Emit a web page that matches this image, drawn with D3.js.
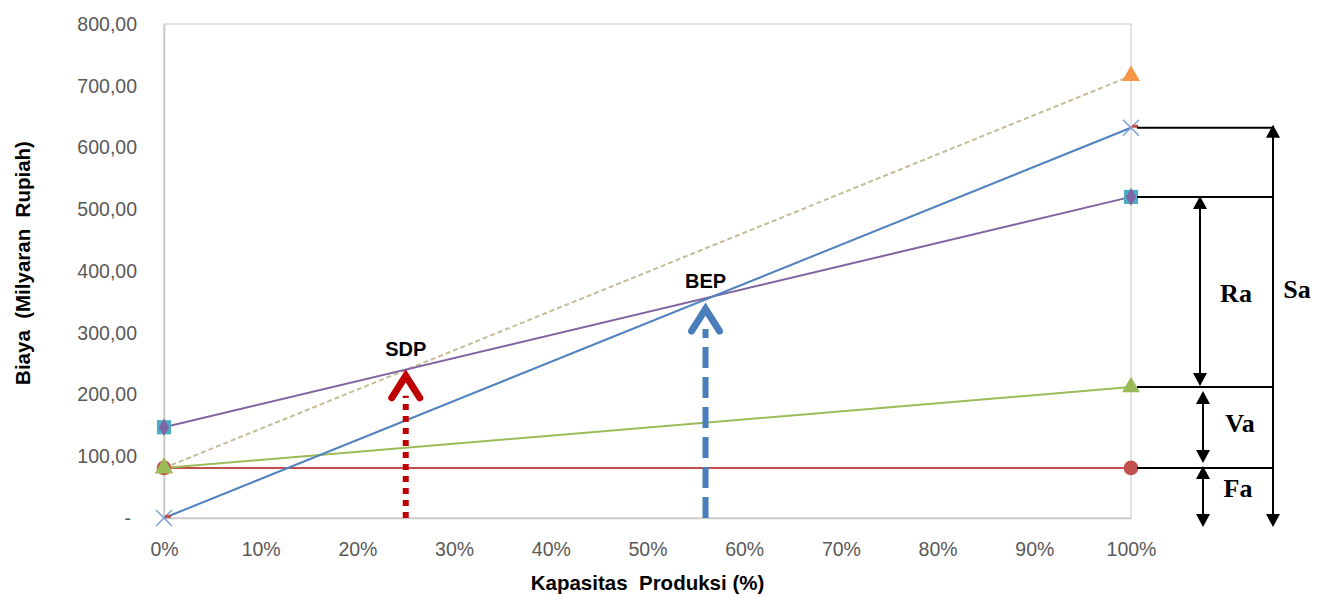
<!DOCTYPE html>
<html>
<head>
<meta charset="utf-8">
<script src="https://cdn.jsdelivr.net/npm/d3@7"></script>
<style>
  html, body { margin: 0; padding: 0; background: #fff; }
  svg { display: block; }
</style>
</head>
<body>
<svg id="chart" width="1325" height="596"></svg>
<script>
// Production capacity (share of full capacity) at the two plotted points
const capacity = [0, 1];
// Cost and revenue lines, billions of rupiah
const fixedCost     = [81, 81];    // Fa
const variableCost  = [81, 212];   // Fa + Va
const totalCost     = [147, 520];  // Fa + Va + Ra
const salesRevenue  = [0, 632];    // Sa
const upperLine     = [81, 716];

// Axis ticks
const xTicks = [0, 0.1, 0.2, 0.3, 0.4, 0.5, 0.6, 0.7, 0.8, 0.9, 1];
const xTickLabels = ["0%", "10%", "20%", "30%", "40%", "50%", "60%", "70%", "80%", "90%", "100%"];
const yTicks = [0, 100, 200, 300, 400, 500, 600, 700, 800];
const yTickLabels = ["-", "100,00", "200,00", "300,00", "400,00", "500,00", "600,00", "700,00", "800,00"];

// Break-even points marked with arrows
const sdpPoint = { cap: 0.25, value: 240 };
const bepPoint = { cap: 0.56, value: 348 };

const svg = d3.select("#chart");
const x = d3.scaleLinear().domain([0, 1]).range([164, 1131]);
const y = d3.scaleLinear().domain([0, 800]).range([518, 24]);

svg.append("rect").attr("width", 1325).attr("height", 596).attr("fill", "#fff");

// Plot frame
svg.append("rect")
  .attr("x", x(0)).attr("y", y(800))
  .attr("width", x(1) - x(0)).attr("height", y(0) - y(800))
  .attr("fill", "none").attr("stroke", "#d9d9d9").attr("stroke-width", 1.5);

// Axes
const tickFont = "'Liberation Sans', Arial, sans-serif";
const gx = svg.append("g").attr("transform", `translate(0,${y(0)})`)
  .call(d3.axisBottom(x).tickValues(xTicks)
    .tickFormat((d, i) => xTickLabels[i]).tickSize(0).tickPadding(24));
const gy = svg.append("g").attr("transform", `translate(${x(0)},0)`)
  .call(d3.axisLeft(y).tickValues(yTicks)
    .tickFormat((d, i) => yTickLabels[i]).tickSize(0).tickPadding(27));
[gx, gy].forEach(g => {
  g.select(".domain").attr("stroke", "#c8c8c8").attr("stroke-width", 1.5);
  g.selectAll("text").attr("fill", "#595959")
    .style("font-family", tickFont).style("font-size", "19.5px");
});
gy.selectAll(".tick text").filter(d => d === 0).attr("dx", -6);

// Axis titles
svg.append("text")
  .attr("x", (x(0) + x(1)) / 2).attr("y", 590)
  .attr("text-anchor", "middle")
  .style("font-family", tickFont).style("font-size", "20.5px").style("font-weight", "bold")
  .style("white-space", "pre")
  .text("Kapasitas  Produksi (%)");
svg.append("text")
  .attr("transform", `translate(30,${(y(0) + y(800)) / 2 - 8}) rotate(-90)`)
  .attr("text-anchor", "middle")
  .style("font-family", tickFont).style("font-size", "20.5px").style("font-weight", "bold")
  .style("white-space", "pre")
  .text("Biaya  (Milyaran  Rupiah)");

// Lines
const lineGen = d3.line().x(d => x(d[0])).y(d => y(d[1]));
const pts = vals => capacity.map((c, i) => [c, vals[i]]);
const series = [
  { vals: fixedCost, color: "#c0504d", dash: null },
  { vals: upperLine, color: "#c4bd97", dash: "5 3" },
  { vals: variableCost, color: "#9bbb59", dash: null },
  { vals: totalCost, color: "#8064a2", dash: null },
  { vals: salesRevenue, color: "#4f81bd", dash: null }
];
series.forEach(s => {
  svg.append("path").datum(pts(s.vals))
    .attr("d", lineGen).attr("fill", "none")
    .attr("stroke", s.color).attr("stroke-width", 2)
    .attr("stroke-dasharray", s.dash);
});

// Markers
const sym = (type, size) => d3.symbol().type(type).size(size)();
function markers(vals, path, fill, stroke, sw) {
  svg.selectAll(null).data(pts(vals)).enter().append("path")
    .attr("transform", d => `translate(${x(d[0])},${y(d[1])})`)
    .attr("d", path).attr("fill", fill)
    .attr("stroke", stroke || "none").attr("stroke-width", sw || 0);
}
markers(fixedCost, sym(d3.symbolCircle, 170), "#c0504d");
markers(upperLine, sym(d3.symbolTriangle, 140), "#f79646");
markers(variableCost, sym(d3.symbolTriangle, 140), "#9bbb59");
markers(totalCost, sym(d3.symbolSquare, 200), "#4bacc6");
markers(totalCost, sym(d3.symbolDiamond, 90), "#8064a2");
markers(salesRevenue, "M-8,-8L8,8M-8,8L8,-8", "none", "#7f9ed6", 1.5);
markers(salesRevenue, "M1,-3h6v3h-6z", "#c0504d");

// Break-even arrows
function arrow(p, color, dash, width) {
  const ax = x(p.cap), tip = y(p.value);
  svg.append("line")
    .attr("x1", ax).attr("x2", ax).attr("y1", y(0)).attr("y2", tip + 26)
    .attr("stroke", color).attr("stroke-width", width).attr("stroke-dasharray", dash);
  svg.append("path")
    .attr("d", `M${ax - 14},${tip + 28}L${ax},${tip + 6}L${ax + 14},${tip + 28}`)
    .attr("fill", "none").attr("stroke", color).attr("stroke-width", 7)
    .attr("stroke-linecap", "round").attr("stroke-linejoin", "miter");
}
arrow(sdpPoint, "#c00000", "6 6", 6);
arrow(bepPoint, "#4a7ebb", "21 9", 6);

svg.append("text").attr("x", x(sdpPoint.cap)).attr("y", 356)
  .attr("text-anchor", "middle")
  .style("font-family", tickFont).style("font-size", "20px").style("font-weight", "bold")
  .text("SDP");
svg.append("text").attr("x", x(bepPoint.cap)).attr("y", 288)
  .attr("text-anchor", "middle")
  .style("font-family", tickFont).style("font-size", "20px").style("font-weight", "bold")
  .text("BEP");

// Cost / revenue breakdown at full capacity
const endX = x(1);
const lineEnd = 1273;
const ann = svg.append("g").attr("stroke", "#000").attr("stroke-width", 2);
[salesRevenue[1], totalCost[1], variableCost[1], fixedCost[1]].forEach(v => {
  ann.append("line").attr("x1", endX + 6).attr("x2", lineEnd)
    .attr("y1", y(v)).attr("y2", y(v));
});

function dimArrow(ax, top, bottom, headUp, headDown) {
  svg.append("line").attr("x1", ax).attr("x2", ax)
    .attr("y1", top + (headUp ? 8 : 0)).attr("y2", bottom - (headDown ? 8 : 0))
    .attr("stroke", "#000").attr("stroke-width", 2);
  if (headUp) svg.append("path")
    .attr("d", `M${ax},${top}L${ax - 7},${top + 13}L${ax + 7},${top + 13}Z`).attr("fill", "#000");
  if (headDown) svg.append("path")
    .attr("d", `M${ax},${bottom}L${ax - 7},${bottom - 13}L${ax + 7},${bottom - 13}Z`).attr("fill", "#000");
}
const baseY = 527;
dimArrow(1273, y(salesRevenue[1]) - 3, baseY, true, true);           // Sa
dimArrow(1200, y(totalCost[1]) - 1, y(variableCost[1]) - 1, true, true); // Ra
dimArrow(1203, y(variableCost[1]) + 4, y(fixedCost[1]) - 5, true, true); // Va
dimArrow(1203, y(fixedCost[1]) - 2, baseY, true, true);             // Fa

const serif = "'Liberation Serif', 'Times New Roman', serif";
[["Sa", 1297, 298], ["Ra", 1236, 302], ["Va", 1240, 432], ["Fa", 1238, 497]].forEach(([t, tx, ty]) => {
  svg.append("text").attr("x", tx).attr("y", ty).attr("text-anchor", "middle")
    .style("font-family", serif).style("font-size", "26px").style("font-weight", "bold")
    .text(t);
});
</script>
</body>
</html>
